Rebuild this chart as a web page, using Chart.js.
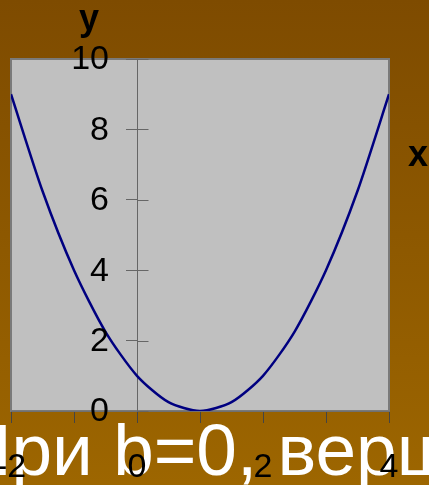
<!DOCTYPE html>
<html>
<head>
<meta charset="utf-8">
<script src="https://cdn.jsdelivr.net/npm/chart.js@4/dist/chart.umd.min.js"></script>
<style>
  html, body { margin: 0; padding: 0; }
  body {
    width: 429px; height: 485px; overflow: hidden; position: relative;
    background: linear-gradient(#7e4b00, #9d6600);
  }
  #caption {
    position: absolute; left: -41px; top: 413px;
    font: 73px/73px "Liberation Sans", Arial, sans-serif;
    color: #fff; white-space: nowrap; z-index: 1;
  }
  #plot { position: absolute; left: 0; top: 0; z-index: 2; }
</style>
</head>
<body>
<div id="caption">При b=0, верш</div>
<canvas id="plot" width="429" height="485"></canvas>
<script>
// -----------------------------------------
// Daten: y = (x - 1)^2, Stützstellen
// -----------------------------------------
const xValues = [-2, -1.5, -1, -0.5, 0, 0.5, 1, 1.5, 2, 2.5, 3, 3.5, 4];
const yValues = [9, 6.25, 4, 2.25, 1, 0.25, 0, 0.25, 1, 2.25, 4, 6.25, 9];
const xTickLabels = [-2, 0, 2, 4];
const yRange = [0, 10];
const xRange = [-2, 4];

const FONT = '"Liberation Sans", Arial, sans-serif';

// -----------------------------------------
// Plotfläche, Achsenkreuz, Beschriftung
// -----------------------------------------
const framePlugin = {
    id: "frame",
    beforeDraw(chart) {
        const { ctx, chartArea: a } = chart;
        ctx.save();
        ctx.fillStyle = "#c0c0c0";
        ctx.fillRect(a.left, a.top, a.width, a.height);
        ctx.lineWidth = 2;
        ctx.strokeStyle = "#7a7a7a";
        ctx.strokeRect(a.left, a.top, a.width, a.height);
        ctx.restore();
    },
    beforeDatasetsDraw(chart) {
        // rechte Hälfte der y-Striche (Kreuzmarken)
        const { ctx, scales } = chart;
        const x0 = Math.round(scales.x.getPixelForValue(0)) + 0.5;
        ctx.save();
        ctx.strokeStyle = "#666";
        ctx.lineWidth = 1;
        scales.y.ticks.forEach(t => {
            const y = Math.round(scales.y.getPixelForValue(t.value)) + 0.5;
            ctx.beginPath();
            ctx.moveTo(x0, y);
            ctx.lineTo(x0 + 11, y);
            ctx.stroke();
        });
        ctx.restore();
    },
    afterDraw(chart) {
        const { ctx, scales } = chart;
        const x0 = scales.x.getPixelForValue(0);
        ctx.save();
        ctx.fillStyle = "#000";

        // y-Werte links neben der y-Achse
        ctx.font = "34px " + FONT;
        ctx.textAlign = "right";
        ctx.textBaseline = "middle";
        scales.y.ticks.forEach(t => {
            ctx.fillText(String(t.value), x0 - 28, scales.y.getPixelForValue(t.value) + 1);
        });

        // Achsennamen
        ctx.font = "bold 36px " + FONT;
        ctx.textAlign = "center";
        ctx.textBaseline = "alphabetic";
        ctx.fillText("y", 89, 30);
        ctx.fillText("x", 418, 166);
        ctx.restore();
    }
};

// -----------------------------------------
// Diagramm
// -----------------------------------------
const points = xValues.map((x, i) => ({ x: x, y: yValues[i] }));

new Chart(document.getElementById("plot"), {
    type: "line",
    data: {
        datasets: [{
            data: points,
            borderColor: "#000080",
            borderWidth: 2.5,
            pointRadius: 0,
            tension: 0.25,
            fill: false
        }]
    },
    options: {
        responsive: false,
        animation: false,
        devicePixelRatio: 1,
        layout: { padding: { left: 11, right: 40, top: 59, bottom: 0 } },
        plugins: { legend: { display: false }, tooltip: { enabled: false } },
        scales: {
            x: {
                type: "linear",
                position: "bottom",
                min: xRange[0],
                max: xRange[1],
                grid: { drawOnChartArea: false, tickLength: 12, color: "#444" },
                border: { display: true, color: "#707070", width: 1 },
                ticks: {
                    stepSize: 1,
                    autoSkip: false,
                    maxRotation: 0,
                    padding: 24,
                    color: "#000",
                    font: { family: FONT, size: 34 },
                    callback: v => xTickLabels.includes(v) ? String(v) : ""
                },
                afterFit(scale) {
                    scale.height = 74;
                    scale.paddingLeft = 0;
                    scale.paddingRight = 0;
                }
            },
            y: {
                type: "linear",
                position: { x: 0 },
                min: yRange[0],
                max: yRange[1],
                grid: { drawOnChartArea: false, tickLength: 11, color: "#666" },
                border: { display: true, color: "#666", width: 1 },
                ticks: {
                    stepSize: 2,
                    display: false
                },
                afterFit(scale) {
                    scale.paddingTop = 0;
                    scale.paddingBottom = 0;
                }
            }
        }
    },
    plugins: [framePlugin]
});
</script>
</body>
</html>
